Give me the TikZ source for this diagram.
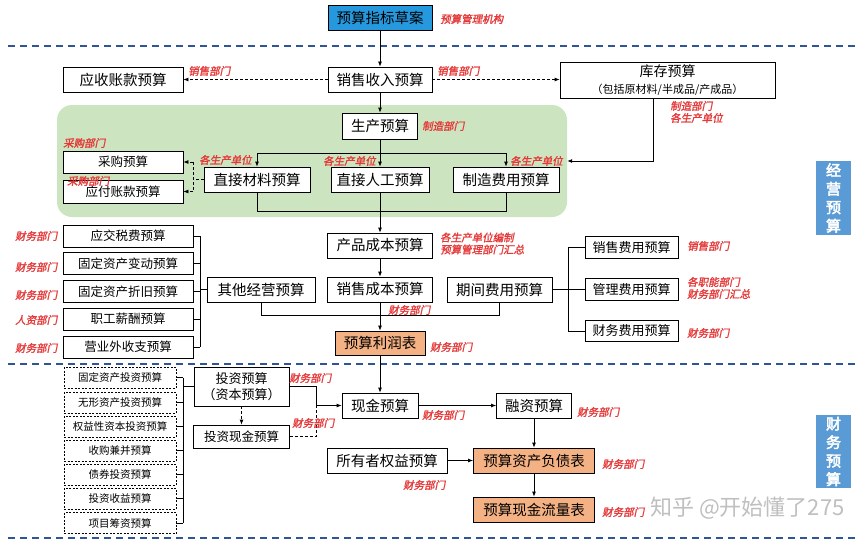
\documentclass[tikz,border=0pt]{standalone}
\usepackage{fontspec}
\setmainfont{Noto Sans CJK SC}
\newfontfamily\redf{Noto Sans CJK SC}[FakeSlant=0.2,FakeBold=1.5]
\newfontfamily\sidef{Noto Sans CJK SC}[FakeBold=3]
\usetikzlibrary{arrows.meta}
\definecolor{greenf}{RGB}{204,228,192}
\definecolor{topblue}{RGB}{38,152,222}
\definecolor{sideblue}{RGB}{91,155,213}
\definecolor{orangef}{RGB}{244,177,131}
\definecolor{redc}{RGB}{230,56,56}
\definecolor{sepblue}{RGB}{47,85,151}
\tikzset{
 box/.style={draw=black, line width=0.8pt, fill=white, inner sep=0pt, align=center, font=\fontsize{14.5}{17}\selectfont},
 sbox/.style={box, font=\fontsize{12.5}{15}\selectfont},
 mbox/.style={box, font=\fontsize{13}{16}\selectfont},
 dbox/.style={box, dash pattern=on 2pt off 1.5pt, font=\fontsize{10.5}{12}\selectfont},
 obox/.style={box, fill=orangef},
 lbl/.style={anchor=west, inner sep=0pt, text=redc, align=left, font=\redf\fontsize{10.5}{12}\selectfont},
 side/.style={fill=sideblue, text=white, inner sep=0pt, align=center, font=\sidef\fontsize{15}{18.5}\selectfont},
 sep/.style={draw=sepblue, line width=1.3pt, dash pattern=on 7pt off 5pt},
 conn/.style={line width=0.8pt},
 dsh/.style={conn, dash pattern=on 3pt off 2pt},
 arr/.style={conn, -{Latex[length=5pt,width=4pt]}},
 darr/.style={dsh, -{Latex[length=5pt,width=4pt]}},
}
\begin{document}
\begin{tikzpicture}[x=1pt,y=-1pt]
\fill[white] (0,0) rectangle (864,543);
\useasboundingbox (0,0) rectangle (864,543);
% separators
\draw[sep] (8,46) -- (855,46);
\draw[sep] (8,364) -- (855,364);
\draw[sep] (8,538) -- (855,538);
% green region
\node[fill=greenf, rounded corners=15pt, minimum width=510pt, minimum height=112pt, inner sep=0pt] (green) at (312,161) {};
% top rows
\node[box, fill=topblue, minimum width=104pt, minimum height=25pt] (top) at (380,17.5) {预算指标草案};
\node[box, minimum width=120pt, minimum height=25pt] (ar) at (123,79.5) {应收账款预算};
\node[box, minimum width=104pt, minimum height=25pt] (sr) at (380,79.5) {销售收入预算};
\node[box, minimum width=215pt, minimum height=36pt] (kc) at (667.5,80) {{\fontsize{14}{16}\selectfont 库存预算}\\{\fontsize{11}{13}\selectfont （包括原材料/半成品/产成品）}};
% production
\node[box, minimum width=75pt, minimum height=26pt] (sc) at (380,126) {生产预算};
\node[box, minimum width=106pt, minimum height=25pt] (zc) at (257,179.5) {直接材料预算};
\node[box, minimum width=98pt, minimum height=25pt] (rg) at (380,179.5) {直接人工预算};
\node[box, minimum width=106pt, minimum height=25pt] (zz) at (506,179.5) {制造费用预算};
\node[sbox, minimum width=120pt, minimum height=22pt] (cg) at (123,162) {采购预算};
\node[sbox, minimum width=120pt, minimum height=23pt] (yf) at (123,191.5) {应付账款预算};
% cost rows
\node[box, minimum width=105pt, minimum height=25pt] (cp) at (380,245.5) {产品成本预算};
\node[box, minimum width=105pt, minimum height=25pt] (xc) at (380,289.5) {销售成本预算};
\node[box, minimum width=108pt, minimum height=25pt] (qt) at (261,289.5) {其他经营预算};
\node[box, minimum width=105pt, minimum height=25pt] (qj) at (499.5,289.5) {期间费用预算};
\node[sbox, minimum width=130pt, minimum height=22pt] (l1) at (128,236) {应交税费预算};
\node[sbox, minimum width=130pt, minimum height=22pt] (l2) at (128,263.5) {固定资产变动预算};
\node[sbox, minimum width=130pt, minimum height=22pt] (l3) at (128,291.5) {固定资产折旧预算};
\node[sbox, minimum width=130pt, minimum height=22pt] (l4) at (128,319) {职工薪酬预算};
\node[sbox, minimum width=130pt, minimum height=22pt] (l5) at (128,347) {营业外收支预算};
\node[mbox, minimum width=93pt, minimum height=21.5pt] (r1) at (631.5,247.5) {销售费用预算};
\node[mbox, minimum width=93pt, minimum height=21.5pt] (r2) at (631.5,289.5) {管理费用预算};
\node[mbox, minimum width=93pt, minimum height=21.5pt] (r3) at (631.5,331) {财务费用预算};
\node[obox, minimum width=90pt, minimum height=24pt] (lr) at (380,343) {预算利润表};
\node[side, minimum width=35pt, minimum height=74pt] (jy) at (833.5,198) {经\\营\\预\\算};
% finance
\node[dbox, minimum width=112pt, minimum height=21pt] (f1) at (120,377.5) {固定资产投资预算};
\node[dbox, minimum width=112pt, minimum height=21pt] (f2) at (120,402.5) {无形资产投资预算};
\node[dbox, minimum width=112pt, minimum height=21pt] (f3) at (120,426.5) {权益性资本投资预算};
\node[dbox, minimum width=112pt, minimum height=21pt] (f4) at (120,450.5) {收购兼并预算};
\node[dbox, minimum width=112pt, minimum height=21pt] (f5) at (120,474.5) {债券投资预算};
\node[dbox, minimum width=112pt, minimum height=21pt] (f6) at (120,498.5) {投资收益预算};
\node[dbox, minimum width=112pt, minimum height=21pt] (f7) at (120,523) {项目筹资预算};
\node[box, font=\fontsize{13}{16}\selectfont, minimum width=95pt, minimum height=39pt] (tz) at (241.5,386.5) {投资预算\\（资本预算）};
\node[sbox, minimum width=96pt, minimum height=23pt] (tx) at (241.5,436.5) {投资现金预算};
\node[box, minimum width=76pt, minimum height=25pt] (xj) at (380,405.5) {现金预算};
\node[box, minimum width=75pt, minimum height=25pt] (rz) at (534,405.5) {融资预算};
\node[box, minimum width=120pt, minimum height=25pt] (sy) at (387,460.5) {所有者权益预算};
\node[obox, minimum width=121pt, minimum height=25pt] (zf) at (534,460.5) {预算资产负债表};
\node[obox, minimum width=121pt, minimum height=25pt] (xl) at (534,509.5) {预算现金流量表};
\node[side, minimum width=35pt, minimum height=73pt] (cw) at (833.5,451.5) {财\\务\\预\\算};
% connectors: top
\draw[arr] (top) -- (sr);
\draw[darr] (sr.west) -- (ar.east);
\draw[darr] (sr.east) -- (kc.west |- sr.east);
\draw[arr] (sr) -- (sc);
\coordinate (hb) at (0,153);
\draw[conn] (sc.south) -- (sc |- hb);
\draw[conn] (zc |- hb) -- (zz |- hb);
\draw[arr] (zc |- hb) -- (zc.north);
\draw[arr] (rg |- hb) -- (rg.north);
\draw[arr] (zz |- hb) -- (zz.north);
\coordinate (hb2) at (0,211);
\draw[conn] (zc.south) -- (zc |- hb2) -- (zz |- hb2) -- (zz.south);
\draw[arr] (rg.south) -- (cp.north);
\coordinate (kx) at (653,161);
\draw[arr] (kc.south -| kx) -- (kx) -- (green.east |- kx);
\coordinate (dv) at (193,179.5);
\draw[dsh] (zc.west) -- (dv);
\draw[dsh] (dv |- cg.east) -- (dv |- yf.east);
\draw[darr] (dv |- cg.east) -- (cg.east);
\draw[darr] (dv |- yf.east) -- (yf.east);
% cost rows
\draw[arr] (cp) -- (xc);
\coordinate (lb) at (200,0);
\foreach \n in {l1,l2,l3,l4,l5} \draw[conn] (\n.east) -- (\n.east -| lb);
\draw[conn] (l1.east -| lb) -- (l5.east -| lb);
\draw[conn] (qt.west -| lb) -- (qt.west);
\coordinate (pm) at (0,315);
\draw[conn] (qt.south) -- (qt |- pm) -- (qj |- pm) -- (qj.south);
\draw[arr] (xc.south) -- (lr.north);
\coordinate (rb) at (568,0);
\draw[conn] (qj.east) -- (qj.east -| rb);
\draw[conn] (r1.west -| rb) -- (r3.west -| rb);
\foreach \n in {r1,r2,r3} \draw[conn] (\n.west -| rb) -- (\n.west);
% finance connectors
\draw[arr] (lr.south) -- (xj.north);
\coordinate (fb) at (183,0);
\foreach \n in {f1,f2,f3,f4,f5,f6,f7} \draw[conn] (\n.east) -- (\n.east -| fb);
\draw[conn] (f1.east -| fb) -- (f7.east -| fb);
\draw[conn] (tz.west -| fb) -- (tz.west);
\draw[darr] (tz.south) -- (tx.north);
\coordinate (mj) at (316,405.5);
\draw[dsh] (tx.east) -| (mj);
\draw[arr] (tz.east) -| (mj) -- (xj.west);
\draw[arr] (xj) -- (rz);
\draw[arr] (rz.south) -- (zf.north);
\draw[arr] (sy.east) -- (zf.west);
\draw[arr] (zf.south) -- (xl.north);
% labels
\node[lbl] (t1) at (440,19) {预算管理机构};
\node[lbl] (t2) at (188,71) {销售部门};
\node[lbl] (t3) at (437,71) {销售部门};
\node[lbl] (t4) at (670,112) {制造部门\\各生产单位};
\node[lbl] (t5) at (422,126) {制造部门};
\node[lbl] (t6) at (63,143) {采购部门};
\node[lbl] (t7) at (67,181) {采购部门};
\node[lbl] (t8) at (199,160) {各生产单位};
\node[lbl] (t9) at (323,161) {各生产单位};
\node[lbl] (t10) at (510,161) {各生产单位};
\node[lbl] (t11) at (440,243.5) {各生产单位编制\\预算管理部门汇总};
\node[lbl] (t12) at (15,236) {财务部门};
\node[lbl] (t13) at (15,267) {财务部门};
\node[lbl] (t14) at (15,295) {财务部门};
\node[lbl] (t15) at (15,320) {人资部门};
\node[lbl] (t16) at (15,348) {财务部门};
\node[lbl] (t17) at (388,310) {财务部门};
\node[lbl] (t18) at (430,347) {财务部门};
\node[lbl] (t19) at (687,246) {销售部门};
\node[lbl] (t20) at (687,288) {各职能部门\\财务部门汇总};
\node[lbl] (t21) at (687,333) {财务部门};
\node[lbl] (t22) at (289,378) {财务部门};
\node[lbl] (t23) at (292,423) {财务部门};
\node[lbl] (t24) at (422,415) {财务部门};
\node[lbl] (t25) at (577,412) {财务部门};
\node[lbl] (t26) at (403,485) {财务部门};
\node[lbl] (t27) at (602,464) {财务部门};
\node[lbl] (t28) at (602,512) {财务部门};
% watermark
\node[text=gray!50, inner sep=0pt, anchor=west, font=\fontsize{22}{24}\selectfont] (wm) at (650,508) {知乎 @开始懂了275};
\end{tikzpicture}
\end{document}
